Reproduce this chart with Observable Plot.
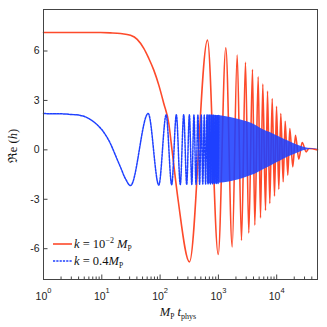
<!DOCTYPE html>
<html><head><meta charset="utf-8">
<script src="https://cdn.jsdelivr.net/npm/d3@7"></script>
<script src="https://cdn.jsdelivr.net/npm/@observablehq/plot@0.6"></script>
<style>html,body{margin:0;padding:0;background:#fff}svg{display:block}</style>
</head><body><div id="chart"></div>
<script>
// k = 1e-2 Mp (red): plateau, first fall, then extrema
const redT = [1, 9.5, 14.1, 20.9, 31.1, 40.5, 52.5, 64, 78, 95, 115.7, 141, 160, 204, 319, 650, 993, 1340, 1725, 2100, 2490, 2915, 3320, 3845, 4210, 4815, 5275, 5775, 6430, 6955, 7615, 8375, 9165, 9930, 10870, 11760, 12920, 13990, 15500, 16790, 18890, 21000, 23920, 27350, 32060, 35550, 50100];
const redV = [7.12, 7.12, 7.1, 7.06, 6.95, 6.71, 6.16, 5.55, 4.84, 3.93, 2.81, 1.6, 0, -3.06, -6.8, 6.66, -6.35, 6.2, -5.89, 5.75, -5.49, 5.31, -5.04, 4.88, -4.57, 4.43, -4.13, 3.99, -3.68, 3.57, -3.26, 3.12, -2.81, 2.65, -2.39, 2.21, -1.94, 1.74, -1.54, 1.30, -1.03, 0.89, -0.56, 0.45, -0.12, 0.08, 0];
// k = 0.4 Mp (blue): plateau, fall, then individual extrema
const blueT = [1, 1.96, 2.9, 4.31, 6.4, 8.34, 10.8, 14.1, 17.2, 20.9, 25.5, 31.1, 62.5, 95, 127, 158, 190, 222, 254, 286, 318, 350, 381, 413, 445, 477, 508, 540, 572, 604, 636, 667, 699, 731, 763, 795, 826, 858, 890, 922, 954, 985, 1017];
const blueV = [2.2, 2.19, 2.15, 2.09, 1.84, 1.52, 1.07, 0.37, -0.34, -1.05, -1.76, -2.17, 2.21, -2.14, 2.13, -2.12, 2.13, -2.11, 2.13, -2.1, 2.13, -2.1, 2.12, -2.1, 2.12, -2.09, 2.12, -2.08, 2.11, -2.08, 2.11, -2.07, 2.1, -2.07, 2.1, -2.06, 2.1, -2.06, 2.09, -2.05, 2.09, -2.05, 2.08];
// dense blue oscillation band: envelope
const bandT = [650, 824, 1614, 3120, 4330, 6010, 8375, 11620, 16130, 22480, 31190, 42760, 50100];
const bandHi = [2.11, 2.1, 1.97, 1.70, 1.5, 1.2, 1.0, 0.75, 0.52, 0.3, 0.13, 0.06, 0.05];
const bandLo = [-2.07, -2.05, -1.94, -1.65, -1.47, -1.2, -0.93, -0.68, -0.42, -0.2, -0.02, 0.03, 0.04];

const xMajor = [1, 10, 100, 1000, 10000];
const xMinor = [2,3,4,5,6,7,8,9,20,30,40,50,60,70,80,90,200,300,400,500,600,700,800,900,2000,3000,4000,5000,6000,7000,8000,9000,20000,30000,40000];
const yTicks = [-6, -3, 0, 3, 6];

const RED = "#fd4a2b", BLUE = "#1e40ff";
const red = redT.map((t, i) => ({t, v: redV[i]}));
const blue = blueT.map((t, i) => ({t, v: blueV[i]}));
const band = bandT.map((t, i) => ({t, hi: bandHi[i], lo: bandLo[i]}));

const svg = Plot.plot({
  width: 327, height: 327,
  marginLeft: 43, marginRight: 10, marginTop: 9, marginBottom: 48,
  style: {fontFamily: "'Liberation Sans', Arial, sans-serif", fontSize: "10.5px", color: "#222", background: "#fff"},
  x: {type: "log", domain: [1, 50100]},
  y: {domain: [-7.87, 8.52]},
  marks: [
    Plot.lineY(red, {x: "t", y: "v", stroke: RED, strokeWidth: 1.6, curve: "monotone-x"}),
    Plot.areaY(band, {x: "t", y1: "lo", y2: "hi", fill: BLUE, fillOpacity: 0.88, curve: "monotone-x"}),
    Plot.lineY(blue, {x: "t", y: "v", stroke: BLUE, strokeWidth: 1.5, strokeDasharray: "2.2,1.1", curve: "monotone-x"}),
    Plot.frame({stroke: "#444", strokeWidth: 1}),
    Plot.axisX(xMinor, {tickSize: -2.5, tickFormat: () => "", label: null, stroke: "#444"}),
    Plot.axisX(xMajor, {tickSize: -4.5, tickPadding: 18, tickFormat: d => "10|" + Math.round(Math.log10(d)), label: null, stroke: "#444"}),
    Plot.axisY(yTicks, {tickSize: -4.5, tickPadding: 8.5, tickFormat: d => String(d), label: null, stroke: "#444"})
  ]
});
document.getElementById("chart").appendChild(svg);

const s = d3.select(svg);
// superscript decade labels
s.selectAll("text").each(function() {
  const txt = this.textContent;
  if (txt.includes("|")) {
    const [base, exp] = txt.split("|");
    const el = d3.select(this);
    el.text(base);
    el.append("tspan").attr("dy", -7.3).attr("font-size", "7.5px").text(exp);
  }
});

const serif = "'Liberation Serif', 'DejaVu Serif', serif";
// x label
const xl = s.append("text").attr("x", 178).attr("y", 316).attr("text-anchor", "middle")
  .attr("font-family", serif).attr("font-size", "12.5px").attr("fill", "#111");
xl.append("tspan").attr("font-style", "italic").text("M");
xl.append("tspan").attr("font-size", "7.5px").attr("dy", 2.5).text("P");
xl.append("tspan").attr("dy", -2.5).text(" ");
xl.append("tspan").attr("font-style", "italic").text("t");
xl.append("tspan").attr("font-size", "8px").attr("dy", 2.5).text("phys");

// y label
const yl = s.append("text").attr("transform", "translate(17,146) rotate(-90)").attr("text-anchor", "middle")
  .attr("font-family", serif).attr("font-size", "12.5px").attr("fill", "#111");
yl.append("tspan").text("ℜe");
yl.append("tspan").text(" (");
yl.append("tspan").attr("font-style", "italic").text("h");
yl.append("tspan").text(")");

// legend
const leg = s.append("g").attr("text-anchor", "start");
leg.append("line").attr("x1", 53).attr("x2", 72).attr("y1", 244).attr("y2", 244)
  .attr("stroke", RED).attr("stroke-width", 1.6);
leg.append("line").attr("x1", 53).attr("x2", 72).attr("y1", 261).attr("y2", 261)
  .attr("stroke", BLUE).attr("stroke-width", 1.5).attr("stroke-dasharray", "2.2,1.1");
const t1 = leg.append("text").attr("x", 74).attr("y", 248).attr("text-anchor", "start").attr("font-family", serif).attr("font-size", "12.5px").attr("fill", "#111");
t1.append("tspan").attr("font-style", "italic").text("k");
t1.append("tspan").text(" = 10");
t1.append("tspan").attr("font-size", "8px").attr("dy", -5).text("−2");
t1.append("tspan").attr("dy", 5).text(" ");
t1.append("tspan").attr("font-style", "italic").text("M");
t1.append("tspan").attr("font-size", "7.5px").attr("dy", 2.5).text("P");
const t2 = leg.append("text").attr("x", 74).attr("y", 265).attr("text-anchor", "start").attr("font-family", serif).attr("font-size", "12.5px").attr("fill", "#111");
t2.append("tspan").attr("font-style", "italic").text("k");
t2.append("tspan").text(" = 0.4");
t2.append("tspan").attr("font-style", "italic").text("M");
t2.append("tspan").attr("font-size", "7.5px").attr("dy", 2.5).text("P");
</script>
</body></html>
